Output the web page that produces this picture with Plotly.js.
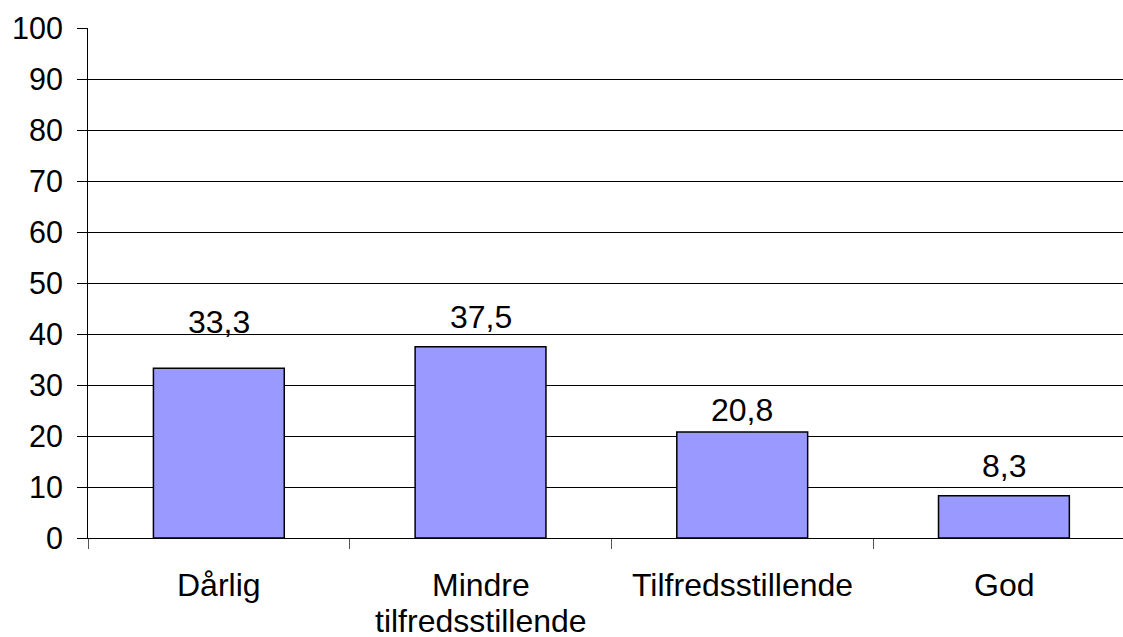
<!DOCTYPE html>
<html>
<head>
<meta charset="utf-8">
<script src="https://cdn.plot.ly/plotly-3.0.1.min.js"></script>
<style>html,body{margin:0;padding:0;background:#fff;}#chart{width:1123px;height:637px;}</style>
</head>
<body>
<div id="chart"></div>
<script>
const categories = ["Dårlig", "Mindre<br>tilfredsstillende", "Tilfredsstillende", "God"];
const values = [33.3, 37.5, 20.8, 8.3];
const valueLabels = ["33,3", "37,5", "20,8", "8,3"];
const yTicks = [0, 10, 20, 30, 40, 50, 60, 70, 80, 90, 100];

// label offsets (pixels above bar top) - layout styling only
const labelShift = [46, 30, 22, 30];
const catLine1Shift = -47;
const catLineSpacing = 36;

const font = "'Liberation Sans', Arial, Helvetica, sans-serif";

const trace = {
  type: "bar",
  x: categories,
  y: values,
  width: 0.5,
  marker: { color: "#9999FF", line: { color: "#000000", width: 1.5 } },
  hoverinfo: "skip"
};

const annotations = values.map((v, i) => ({
  x: categories[i],
  y: v,
  xref: "x",
  yref: "y",
  text: valueLabels[i],
  showarrow: false,
  yanchor: "middle",
  yshift: labelShift[i],
  font: { family: font, size: 32, color: "#000" }
}));

categories.forEach((c) => {
  c.split("<br>").forEach((line, k) => {
    annotations.push({
      x: c,
      y: 0,
      xref: "x",
      yref: "paper",
      text: line,
      showarrow: false,
      yanchor: "middle",
      yshift: catLine1Shift - k * catLineSpacing,
      font: { family: font, size: 32, color: "#000" }
    });
  });
});

const layout = {
  width: 1123,
  height: 637,
  margin: { l: 88, r: 0, t: 28, b: 99, pad: 0 },
  paper_bgcolor: "#fff",
  plot_bgcolor: "#fff",
  showlegend: false,
  font: { family: font, color: "#000" },
  xaxis: {
    type: "category",
    range: [-0.5, 3.455],
    showline: true,
    linecolor: "#000",
    linewidth: 1,
    ticks: "outside",
    tickson: "boundaries",
    ticklen: 10,
    tickcolor: "#555",
    tickwidth: 1,
    showgrid: false,
    showticklabels: false,
    fixedrange: true
  },
  yaxis: {
    range: [0, 100],
    tickvals: yTicks,
    ticktext: yTicks.map(String),
    showline: true,
    linecolor: "#000",
    linewidth: 1,
    ticks: "outside",
    ticklen: 10,
    tickcolor: "#000",
    tickwidth: 1,
    showgrid: true,
    gridcolor: "#000",
    gridwidth: 1,
    zeroline: false,
    ticklabelstandoff: 8,
    tickfont: { family: font, size: 30.5, color: "#000" },
    fixedrange: true
  },
  annotations: annotations,
  bargap: 0.5
};

Plotly.newPlot("chart", [trace], layout, { displayModeBar: false, staticPlot: true });
</script>
</body>
</html>
